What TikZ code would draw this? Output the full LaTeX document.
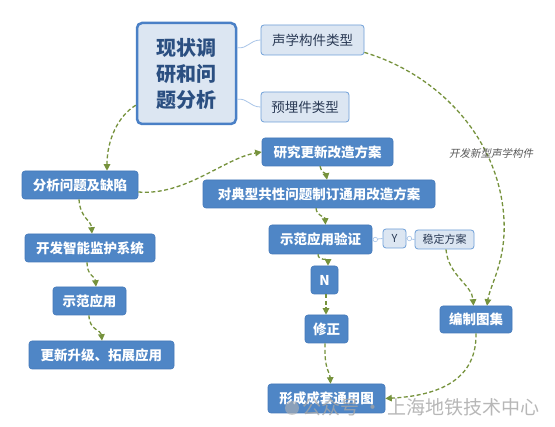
\documentclass[tikz,border=0pt]{standalone}
\usepackage{fontspec}
\setmainfont{Noto Sans CJK SC}
\newfontfamily\cjkit{Noto Sans CJK SC}[FakeSlant=0.2]
\usetikzlibrary{arrows.meta,calc}
\definecolor{bluefill}{HTML}{4F86C6}
\definecolor{blueedge}{HTML}{4479BA}
\definecolor{lightfill}{HTML}{DCE6F2}
\definecolor{lightedge}{HTML}{6E9FD8}
\definecolor{mainedge}{HTML}{4A80C6}
\definecolor{maintext}{HTML}{2B4F81}
\definecolor{childtext}{HTML}{2A3A55}
\definecolor{flow}{HTML}{76923C}
\definecolor{thin}{HTML}{A9C5E8}
\begin{document}
\begin{tikzpicture}[x=1pt,y=-1pt,
  bluebox/.style={draw=blueedge,fill=bluefill,rounded corners=3pt,text=white,
    font=\bfseries\fontsize{13.5}{15}\selectfont,inner sep=0pt,line width=0.6pt},
  lightbox/.style={draw=lightedge,fill=lightfill,rounded corners=3pt,text=childtext,
    font=\fontsize{13.5}{15}\selectfont,inner sep=0pt,line width=0.8pt},
  flowline/.style={draw=flow,line width=1.3pt,dash pattern=on 4pt off 2.5pt,
    -{Triangle[length=6.5pt,width=6.5pt,flow]}},
  thinline/.style={draw=thin,line width=0.8pt},
  knob/.style={circle,draw=thin,fill=white,inner sep=0pt,minimum size=4.5pt,line width=0.6pt}
]
\useasboundingbox (0,0) rectangle (555,427);
\fill[white] (0,0) rectangle (555,427);

% nodes
\node[draw=mainedge,fill=lightfill,rounded corners=5pt,line width=2.5pt,text=maintext,
  font=\bfseries\fontsize{20}{26}\selectfont,align=center,inner sep=0pt,
  minimum width=99pt,minimum height=101pt] (main) at (186.5,73.5) {现状调\\研和问\\题分析};
\node[lightbox,minimum width=103pt,minimum height=30pt] (s1) at (312.5,40) {声学构件类型};
\node[lightbox,minimum width=88pt,minimum height=30pt] (s2) at (305,107) {预埋件类型};

\node[bluebox,minimum width=116pt,minimum height=28pt] (a) at (80,185) {分析问题及缺陷};
\node[bluebox,minimum width=130pt,minimum height=28pt] (b) at (90,248) {开发智能监护系统};
\node[bluebox,minimum width=73pt,minimum height=28pt] (c) at (89.5,301) {示范应用};
\node[bluebox,minimum width=145pt,minimum height=28pt] (d) at (101.5,355) {更新升级、拓展应用};

\node[bluebox,minimum width=131pt,minimum height=28pt] (e) at (327.5,152) {研究更新改造方案};
\node[bluebox,minimum width=232pt,minimum height=28pt] (f) at (319,194) {对典型共性问题制订通用改造方案};
\node[bluebox,minimum width=103pt,minimum height=29pt] (g) at (320.5,239.5) {示范应用验证};
\node[lightbox,minimum width=23pt,minimum height=19pt,font=\fontsize{11}{13}\selectfont] (y) at (394.5,238.5) {Y};
\node[lightbox,minimum width=59pt,minimum height=19pt,font=\fontsize{11}{13}\selectfont] (h) at (444.5,239.5) {稳定方案};
\node[bluebox,minimum width=27pt,minimum height=28pt] (n) at (324.5,280) {N};
\node[bluebox,minimum width=43pt,minimum height=28pt] (m) at (326.5,329) {修正};
\node[bluebox,minimum width=117pt,minimum height=29pt] (k) at (326.5,398.5) {形成成套通用图};
\node[bluebox,minimum width=72pt,minimum height=27pt] (j) at (476,319.5) {编制图集};

% thin connectors
\draw[thinline] ([yshift=-26pt]main.north east) .. controls (248,49) and (250,40) .. (s1.west);
\draw[thinline] ([yshift=26pt]main.south east) .. controls (248,98) and (250,107) .. (s2.west);
\draw[thinline] (g.east) -- (y.west);
\draw[thinline] (y.east) -- (h.west);
\node[knob] (k1) at ([xshift=3pt]g.east) {};
\node[knob] (k2) at ([xshift=3pt]y.east) {};

% flow connectors
\draw[flowline] ([yshift=20pt]main.south west) .. controls (118,116) and (107,140) .. ([xshift=27pt]a.north);
\draw[flowline] ([yshift=-7pt]a.east) .. controls (185,196) and (225,158) .. (e.west);
\draw[flowline] ([xshift=-7.5pt]e.south) .. controls (321,172) and (326,174) .. ([xshift=8pt]f.north);
\draw[flowline] ([xshift=-3pt]f.south) .. controls (317,217) and (325,216) .. ([xshift=5pt]g.north);
\draw[flowline] ([xshift=-2.5pt]g.south) .. controls (318,261) and (328,259) .. ([xshift=3.5pt]n.north);
\draw[flowline] ([xshift=1.5pt]n.south) -- ([xshift=-0.5pt]m.north);
\draw[flowline] ([xshift=-1.5pt]m.south) .. controls (324,370) and (330,372) .. ([xshift=4pt]k.north);
\draw[flowline] (j.south) .. controls (477,385) and (430,396) .. (k.east);
\draw[flowline] ([yshift=3pt]s1.south east) .. controls (440,75) and (500,140) .. (504,220)
  .. controls (506,262) and (490,285) .. ([xshift=11pt]j.north);
\draw[flowline] ([xshift=1.5pt]h.south) .. controls (448,275) and (472,285) .. ([xshift=-2.5pt]j.north);
\draw[flowline] ([xshift=-1pt]a.south) .. controls (80,218) and (91,220) .. ([xshift=2pt]b.north);
\draw[flowline] ([xshift=-3pt]b.south) .. controls (87,276) and (95,276) .. ([xshift=6.5pt]c.north);
\draw[flowline] ([xshift=-0.5pt]c.south) .. controls (89,330) and (101,330) .. ([xshift=0.5pt]d.north);

\node[text=black!65,font=\cjkit\fontsize{10.5}{12}\selectfont] (lbl) at (491,153) {开发新型声学构件};

% watermark
\fill[black!30,opacity=0.6] (292,408) circle (7pt);
\node[text=black!35,opacity=0.8,font=\fontsize{19}{21}\selectfont,anchor=west] (wm) at (299,407) {公众号 · 上海地铁技术中心};
\end{tikzpicture}
\end{document}
